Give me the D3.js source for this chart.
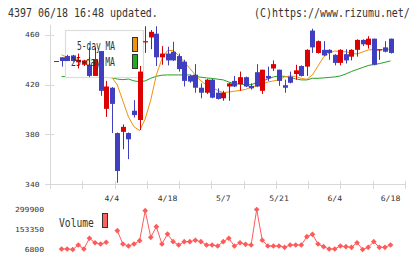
<!DOCTYPE html>
<html>
<head>
<meta charset="utf-8">
<script src="https://cdn.jsdelivr.net/npm/d3@7"></script>
<style>
body { margin: 0; background: #fff; }
svg { display: block; font-family: "DejaVu Sans Mono", monospace; }
</style>
</head>
<body>
<svg id="chart" width="420" height="259"></svg>
<script>
var dates = ['3/21','3/22','3/25','3/26','3/27','3/28','3/29','4/1','4/2','4/3',
  '4/4','4/5','4/8','4/9','4/10','4/11','4/12','4/15','4/16','4/17',
  '4/18','4/19','4/22','4/23','4/24','4/25','4/26','4/30','5/1','5/2',
  '5/7','5/8','5/9','5/10','5/13','5/14','5/15','5/16','5/17','5/20',
  '5/21','5/22','5/23','5/24','5/27','5/28','5/29','5/30','5/31','6/3',
  '6/4','6/5','6/6','6/7','6/10','6/11','6/12','6/13','6/14','6/17','6/18'];
var open  = [438.5,442,443,443.5,438,436,436,427,447,400.5,
  417.5,381,382,381,399,391.5,454,458,461,442,
  445,446.5,443,438.5,427,428,417.5,413.5,424,413.5,
  409,418.5,423,420.5,426,419,430,415,427,433,
  432,419.5,426.5,428.5,435,434.5,463.5,445.5,448,448,
  444,437.5,444.5,442.5,448,456,452,457,447.5,450,457];
var high  = [439,442,444,444,445,440,450,450,447,423,
  418,381.5,388,381.5,407.5,435,467,464,467,451,
  450.5,454.5,445,440,428,436.5,421,424.5,424.5,417,
  415,421.5,427,430.5,426.5,421,436.5,432,434.5,439.5,
  432,424,430.5,436,435.5,448.5,465,455.5,455,448.5,
  444.5,448.5,448.5,448.5,456.5,456.5,459,457,448.5,455,457];
var low   = [438.5,434.5,439,438.5,433,435,426,427,411,394,
  381,341,368,360,393.5,383.5,445.5,448.5,435,436,
  435.5,439,430.5,418.5,421.5,413.5,409,412.5,409,408,
  407,407,418,415,418,416,418,412.5,423,431,
  419,413.5,421,424,426.5,427,445.5,445,443,440,
  435.5,435.5,437,439.5,442.5,451,449,435.5,440,446,445];
var close = [439,439,439,439,440,439.5,427,440.5,415,418.5,
  404.5,350.5,386,376,395.5,430.5,455,462.5,442,445,
  439.5,439.5,432.5,423,422.5,417.5,413.5,424,409.5,408.5,
  413.5,421,418.5,426,418.5,417,418.5,432,425,436.5,
  423,417.5,421.5,431.5,427,448,450,455,443.5,445.5,
  437.5,448,439.5,448,456,452.5,457,436,448.5,446.5,445.5];
var ma5  = [null,444,442,440,439.5,439,437,437,433,428,
  426,419.7,406.8,394,386,383,392.3,407.7,427.8,440.7,
  447.4,447.5,443.5,438.3,433,427.8,423,419.7,417.7,415.3,
  413.5,414.1,414.7,415.3,416.1,418.1,418.9,420.5,422.1,423,
  423.8,426.2,427,426.6,425,424.3,427.8,435,442.3,445.3,
  447.1,446.5,446.5,445.3,444.7,446.3,447.9,448.3,447.9,448.5,448.5];
var ma25 = [null,426.4,426.5,426.5,426.7,427,427,427,426.5,426,
  425.5,424.5,424,424.5,423,422.4,423,425.1,426.7,427.6,
  427.8,427.8,427.8,427.8,427.8,426.6,426,425.4,425,424.4,
  423.8,422.1,420.8,420.3,420.1,419.9,421.6,422.8,424.6,426.2,
  427,426.6,425.8,424.6,423.8,423.8,425.1,425.1,425.4,425.8,
  426.2,427,428.6,430.6,432.2,433.8,435.4,436.2,436.9,438,439.1];
var volume = [null,10500,10500,6800,39800,10500,88900,56600,47100,59600,
  null,144600,47100,32400,47100,71300,291100,96200,173900,47100,
  120400,64000,39800,64000,64000,74700,64000,39800,39800,32400,
  64000,88900,32400,56600,44900,39800,299900,74700,32400,32400,
  32400,22900,39800,39800,39800,100600,118200,47100,27300,10500,
  10500,32400,27300,22900,56600,6800,22900,64000,22900,22900,39800];
var priceTicks = [340, 380, 420, 460];
var volumeTicks = [6800, 153350, 299900];
var dateLabels = ['4/4', '4/18', '5/7', '5/21', '6/4', '6/18'];

var svg = d3.select('#chart');
var days = d3.range(dates.length);

var x = d3.scalePoint().domain(dates).range([56, 390.5]);
var y = d3.scaleLinear().domain([340, 468]).range([184, 25]);
var yv = d3.scaleLinear().domain([6800, 299900]).range([249.5, 209.5]);
// evenly spaced grid ticks on the bottom axis, not tied to dates
var gx = d3.scaleLinear().domain([0, 11]).range([50, 405]);

var UP = '#dd0000', DOWN = '#3f3fbf', GRID = '#d8d8d8', INK = '#333';

// the source font is narrow: squeeze a mono font sideways to the width w
function label(g, txt, px, py, size, w, anchor) {
  var sx = w / (txt.length * 0.602 * size);
  return g.append('text')
    .attr('transform', 'translate(' + px + ',' + py + ') scale(' + sx.toFixed(3) + ',1)')
    .attr('font-size', size)
    .attr('fill', INK)
    .attr('text-anchor', anchor || 'start')
    .text(txt);
}

// header
label(svg, '4397 06/18 16:48 updated.', 8, 16.5, 12, 150);
label(svg, '(C)https://www.rizumu.net/', 254, 16.5, 12, 156);

// axes
var axes = svg.append('g').attr('stroke', GRID).attr('stroke-width', 1);
axes.append('line').attr('x1', 50.5).attr('x2', 50.5).attr('y1', y.range()[1]).attr('y2', 184.5);
axes.append('line').attr('x1', 50).attr('x2', 405).attr('y1', 184.5).attr('y2', 184.5);
axes.selectAll('.yt').data(priceTicks).enter().append('line')
  .attr('x1', 45).attr('x2', 54)
  .attr('y1', function(d) { return Math.round(y(d)) + 0.5; })
  .attr('y2', function(d) { return Math.round(y(d)) + 0.5; });
axes.selectAll('.xt').data(d3.range(12)).enter().append('line')
  .attr('x1', function(d) { return Math.round(gx(d)) + 0.5; })
  .attr('x2', function(d) { return Math.round(gx(d)) + 0.5; })
  .attr('y1', 181).attr('y2', 189);

var labels = svg.append('g');
priceTicks.forEach(function(v) {
  label(labels, String(v), 39.5, y(v) + 2.5, 7, String(v).length * 4.8, 'end');
});
dateLabels.forEach(function(d) {
  label(labels, d, x(d), 201, 7.5, d.length * 4.9, 'middle');
});
volumeTicks.forEach(function(v) {
  label(labels, String(v), 44, yv(v) + 2.5, 7, String(v).length * 4.85, 'end');
});

// moving averages
function maLine(values, color) {
  var line = d3.line()
    .defined(function(i) { return values[i] != null; })
    .x(function(i) { return x(dates[i]); })
    .y(function(i) { return y(values[i]); });
  svg.append('path').attr('d', line(days))
    .attr('fill', 'none').attr('stroke', color).attr('stroke-width', 1);
}
maLine(ma25, '#22a022');
maLine(ma5, '#f0920a');

// legend box sits over the lines but under the candles
svg.append('rect').attr('x', 65.5).attr('y', 30.5).attr('width', 78).attr('height', 47)
  .attr('fill', '#fff').attr('stroke', '#dcdcdc').attr('stroke-width', 1.2);

// candles
var candles = svg.append('g');
candles.selectAll('line').data(days).enter().append('line')
  .attr('x1', function(i) { return Math.round(x(dates[i])) + 0.5; })
  .attr('x2', function(i) { return Math.round(x(dates[i])) + 0.5; })
  .attr('y1', function(i) { return y(high[i]); })
  .attr('y2', function(i) { return y(low[i]); })
  .attr('stroke', function(i) { return close[i] >= open[i] ? UP : DOWN; });
candles.selectAll('rect').data(days).enter().append('rect')
  .attr('x', function(i) { return Math.round(x(dates[i])) - 2; })
  .attr('width', 5)
  .attr('y', function(i) { return y(Math.max(open[i], close[i])); })
  .attr('height', function(i) { return Math.max(1, Math.abs(y(open[i]) - y(close[i]))); })
  .attr('fill', function(i) { return close[i] >= open[i] ? UP : DOWN; });

// legend text
label(svg, '5-day MA', 77, 49.5, 12, 38);
label(svg, '25-day MA', 71, 66, 12, 44);
svg.append('rect').attr('x', 132.5).attr('y', 37.5).attr('width', 5).attr('height', 14)
  .attr('fill', '#f0920a').attr('stroke', '#333');
svg.append('rect').attr('x', 132.5).attr('y', 54.5).attr('width', 5).attr('height', 14)
  .attr('fill', '#22aa22').attr('stroke', '#333');

// volume
var VOL = '#ff5a5a';
var vline = d3.line()
  .defined(function(i) { return volume[i] != null; })
  .x(function(i) { return x(dates[i]); })
  .y(function(i) { return yv(volume[i]); });
svg.append('path').attr('d', vline(days))
  .attr('fill', 'none').attr('stroke', VOL).attr('stroke-width', 1);
var diamond = d3.symbol().type(d3.symbolSquare).size(16);
svg.append('g').selectAll('path')
  .data(days.filter(function(i) { return volume[i] != null; }))
  .enter().append('path')
  .attr('d', diamond)
  .attr('transform', function(i) { return 'translate(' + x(dates[i]) + ',' + yv(volume[i]) + ') rotate(45)'; })
  .attr('fill', VOL);

label(svg, 'Volume', 59, 227, 12, 35);
svg.append('rect').attr('x', 102.5).attr('y', 213.5).attr('width', 5).attr('height', 14)
  .attr('fill', '#ff6060').attr('stroke', '#333');
</script>
</body>
</html>
